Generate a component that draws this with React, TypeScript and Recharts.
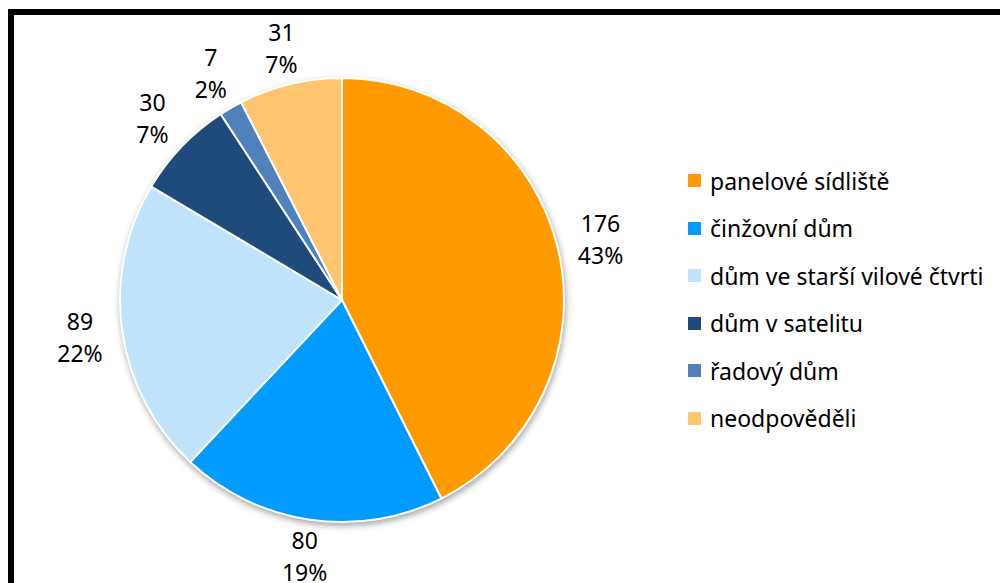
import { PieChart, Pie, Cell, Legend } from "recharts";

const categories = [
  "panelové sídliště",
  "činžovní dům",
  "dům ve starší vilové čtvrti",
  "dům v satelitu",
  "řadový dům",
  "neodpověděli",
];
const counts = [176, 80, 89, 30, 7, 31];
const percentLabels = ["43%", "19%", "22%", "7%", "2%", "7%"];
const colors = ["#FF9A00", "#009BFF", "#BEE3FB", "#1F4A7C", "#4F81BD", "#FFC571"];

const FONT = "'Noto Sans', 'Open Sans', sans-serif";
const RAD = Math.PI / 180;

const data = categories.map((name, i) => ({ name, value: counts[i] }));

// rough text width at 23px, used to keep the label box just off the pie edge
const textWidth = (s: string) =>
  s.split("").reduce((w, ch) => w + (ch === "%" ? 18.8 : 13.2), 0);

function renderLabel(props: any) {
  const { cx, cy, midAngle, outerRadius, index } = props;
  const ux = Math.cos(-midAngle * RAD);
  const uy = Math.sin(-midAngle * RAD);
  const halfW = Math.max(textWidth(String(counts[index])), textWidth(percentLabels[index])) / 2;
  const r = outerRadius + 18 + Math.abs(ux) * halfW + Math.abs(uy) * 16;
  const x = cx + r * ux;
  const y = cy + r * uy;
  return (
    <g key={`lbl-${index}`}>
      <text x={x} y={y - 16} textAnchor="middle" dominantBaseline="central" fontFamily={FONT} fontSize={23} fill="#000">
        {counts[index]}
      </text>
      <text x={x} y={y + 16} textAnchor="middle" dominantBaseline="central" fontFamily={FONT} fontSize={23} fill="#000">
        {percentLabels[index]}
      </text>
    </g>
  );
}

function renderLegend() {
  return (
    <div style={{ fontFamily: FONT, fontSize: 23, color: "#000" }}>
      {categories.map((name, i) => (
        <div key={name} style={{ height: 47.5, display: "flex", alignItems: "center" }}>
          <span style={{ width: 13, height: 13, background: colors[i], display: "inline-block", marginRight: 9, flex: "none" }} />
          <span style={{ whiteSpace: "nowrap" }}>{name}</span>
        </div>
      ))}
    </div>
  );
}

export default function App() {
  return (
    <div style={{ position: "absolute", left: 0, top: 0, width: 1000, height: 583, overflow: "hidden", background: "#fff" }}>
      <style>{`.recharts-pie > g:not(.recharts-pie-labels) { filter: drop-shadow(1px 3px 3px rgba(0,0,0,0.35)); }`}</style>
      <div
        style={{
          position: "absolute",
          left: 8,
          top: 9,
          width: 1100,
          height: 700,
          borderTop: "6px solid #000",
          borderLeft: "6px solid #000",
        }}
      />
      <div style={{ position: "absolute", left: 0, top: 0 }}>
        <PieChart width={1000} height={583} margin={{ top: 0, right: 0, bottom: 0, left: 0 }}>
          <Pie
            data={data}
            dataKey="value"
            nameKey="name"
            cx={342}
            cy={300}
            outerRadius={222}
            startAngle={90}
            endAngle={-270}
            stroke="#fff"
            strokeWidth={2}
            label={renderLabel}
            labelLine={false}
            isAnimationActive={false}
          >
            {data.map((d, i) => (
              <Cell key={d.name} fill={colors[i]} />
            ))}
          </Pie>
          <Legend
            layout="vertical"
            verticalAlign="middle"
            align="right"
            content={renderLegend}
            wrapperStyle={{ left: 688, top: 157, width: 310 }}
          />
        </PieChart>
      </div>
    </div>
  );
}
